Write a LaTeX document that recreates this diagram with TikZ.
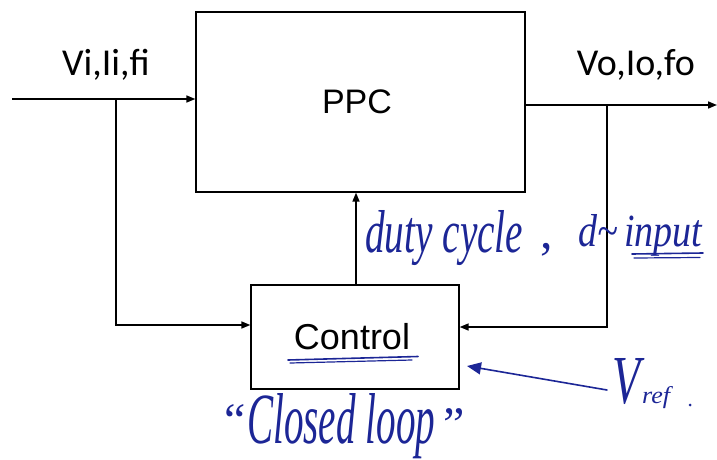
\documentclass[tikz,border=0pt]{standalone}
\usepackage{fontspec}
\usepackage{graphicx}
\setmainfont{Liberation Sans}
\newfontfamily\calfont{Carlito}
\newfontfamily\handfont{Liberation Serif}[ItalicFont={Liberation Serif Italic}]
\usetikzlibrary{arrows.meta}
\definecolor{ink}{RGB}{28,38,150}
\begin{document}
\begin{tikzpicture}[x=1pt,y=-1pt,
  blk/.style={draw=black,line width=1.3pt,inner sep=0pt},
  wire/.style={line width=1.6pt,draw=black},
  tip/.style={-{Triangle[length=9pt,width=7pt]}},
  lbl/.style={font=\calfont\fontsize{38}{40}\selectfont,anchor=base,inner sep=0pt},
  hand/.style={text=ink,inner sep=0pt,font=\handfont\itshape},
  pen/.style={draw=ink,line width=1.6pt,line cap=round}]
\useasboundingbox (0,0) rectangle (717,460);
% blocks
\node[blk,minimum width=329pt,minimum height=180pt] (ppc) at (360.5,102) {};
\node[font=\fontsize{34}{36}\selectfont,inner sep=0pt,anchor=base] (ppct) at (357,113) {PPC};
\node[blk,minimum width=208pt,minimum height=104pt] (ctl) at (355,337) {};
\node[font=\fontsize{36}{38}\selectfont,inner sep=0pt,anchor=base] (ctlt) at (352,349) {Control};
% labels
\node[lbl] (vin) at (106,75) {Vi,Ii,fi};
\node[lbl] (vout) at (636,75) {Vo,Io,fo};
% coordinates
\coordinate (inS) at (12,99);
\coordinate (inJ) at (116,99);
\coordinate (inB) at (116,325);
\coordinate (outS) at (525,105);
\coordinate (outJ) at (607,105);
\coordinate (outE) at (717,105);
\coordinate (outB) at (607,327);
% wires
\draw[wire,tip] (inS) -- (ppc.west |- inS);
\draw[wire,tip] (inJ) -- (inB) -- (ctl.west |- inB);
\draw[wire,tip] (outS) -- (outE);
\draw[wire,tip] (outJ) -- (outB) -- (ctl.east |- outB);
\draw[wire,tip] (ctl.north -| 356,0) -- (ppc.south -| 356,0);
% handwriting
\node[hand,anchor=base west] (duty) at (365,252) {\resizebox{158pt}{42pt}{duty cycle}};
\node[hand,anchor=base west,font=\handfont\fontsize{50}{50}\selectfont] (comma) at (540,248) {,};
\node[hand,anchor=base west] (dinp) at (578,246) {\resizebox{124pt}{32pt}{d\textasciitilde\,input}};
\draw[pen] (632,254) -- (703,253);
\draw[pen,line width=1.2pt] (634,258) -- (700,257.5);
\draw[pen] (288,360) -- (418,356.5);
\draw[pen,line width=1.2pt] (290,363) -- (412,360);
\node[hand,anchor=base west] (cl) at (247,443) {\resizebox{188pt}{50pt}{Closed loop}};
\node[hand,anchor=base,font=\handfont\fontsize{48}{48}\selectfont] (q1) at (235,436) {“};
\node[hand,anchor=base,font=\handfont\fontsize{48}{48}\selectfont] (q2) at (454,440) {”};
\node[hand,anchor=base west] (vr) at (612,403) {\resizebox{28pt}{45pt}{V}};
\node[hand,anchor=base west] (rf) at (642,403) {\resizebox{28pt}{17pt}{ref}};
\fill[ink] (690,405) circle (1.5pt);
\coordinate (vrt) at (607,390);
\coordinate (vrh) at (467,366);
\draw[pen,-{Triangle[length=14pt,width=12pt]}] (vrt) -- (vrh);
\end{tikzpicture}
\end{document}
